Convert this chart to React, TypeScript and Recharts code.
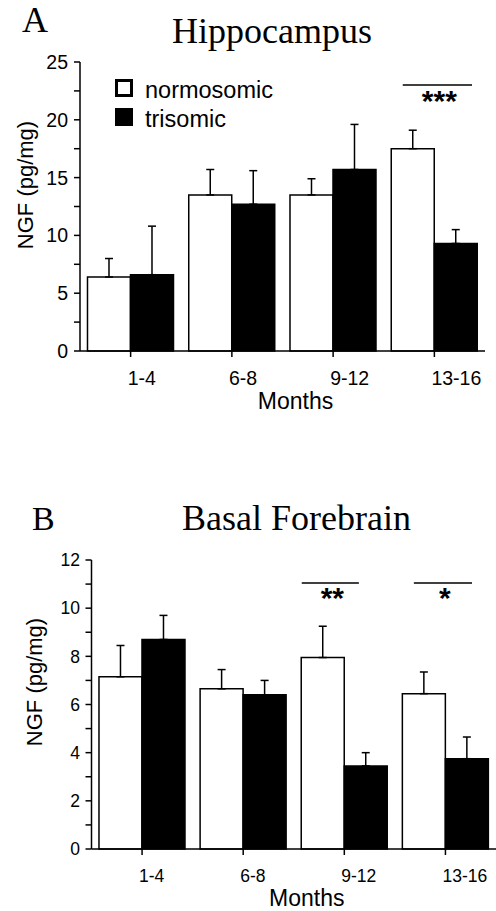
import React from 'react';
import { BarChart, Bar, XAxis, YAxis, ErrorBar, ReferenceArea, Legend, Label } from 'recharts';

const SANS = 'Arial, "Liberation Sans", Helvetica, sans-serif';
const SERIF = '"Times New Roman", "Liberation Serif", Times, serif';

const months = ['1-4', '6-8', '9-12', '13-16'];
const seriesNames = ['normosomic', 'trisomic'];

// panel A - hippocampus
const hippoNormo = [6.4, 13.5, 13.5, 17.5];
const hippoNormoErr = [1.6, 2.2, 1.4, 1.6];
const hippoTri = [6.6, 12.7, 15.7, 9.3];
const hippoTriErr = [4.2, 2.9, 3.9, 1.2];
const hippoTicks = [0, 2.5, 5, 7.5, 10, 12.5, 15, 17.5, 20, 22.5, 25];
const hippoSig = [{ month: '13-16', y: 23, mark: '***' }];

// panel B - basal forebrain
const basalNormo = [7.15, 6.65, 7.95, 6.45];
const basalNormoErr = [1.3, 0.8, 1.3, 0.9];
const basalTri = [8.7, 6.4, 3.45, 3.75];
const basalTriErr = [1.0, 0.6, 0.55, 0.9];
const basalTicks = [0, 1, 2, 3, 4, 5, 6, 7, 8, 9, 10, 11, 12];
const basalSig = [
  { month: '9-12', y: 11.05, mark: '**' },
  { month: '13-16', y: 11.05, mark: '*' },
];

const buildRows = (n: number[], nErr: number[], t: number[], tErr: number[]) =>
  months.map((m, i) => ({
    month: m,
    normo: n[i],
    normoErr: [0, nErr[i]],
    tri: t[i],
    triErr: [0, tErr[i]],
  }));

const sigShape = (mark: string, insetL: number, insetR: number) => (p: any) => {
  const x1 = p.x + insetL;
  const x2 = p.x + p.width - insetR;
  return (
    <g>
      <line x1={x1} x2={x2} y1={p.y} y2={p.y} stroke="#000" strokeWidth={1.5} />
      <text x={(x1 + x2) / 2 + 2} y={p.y + 25.5} textAnchor="middle" fontSize={30} fontWeight="bold" fontFamily={SANS} fill="#000">
        {mark}
      </text>
    </g>
  );
};

const MonthTick = (props: any) => {
  const { x, y, payload, fontSize } = props;
  return (
    <text x={x - 3} y={y + fontSize * 0.72} textAnchor="start" fontSize={fontSize} fontFamily={SANS} fill="#000">
      {payload.value}
    </text>
  );
};

const yLabel = (cxOff: number, shift: number) => (props: any) => {
  const vb = props.viewBox;
  const cx = vb.x + cxOff;
  const cy = vb.y + vb.height / 2 + shift;
  return (
    <text x={cx} y={cy} dy="0.36em" transform={`rotate(-90 ${cx} ${cy})`} textAnchor="middle" fontSize={22} fontFamily={SANS} fill="#000">
      NGF (pg/mg)
    </text>
  );
};

const xLabel = (dxOff: number, base: number) => (props: any) => {
  const vb = props.viewBox;
  return (
    <text x={vb.x + vb.width / 2 + dxOff} y={vb.y + base} textAnchor="middle" fontSize={23} fontFamily={SANS} fill="#000">
      Months
    </text>
  );
};

const legendContent = (props: any) => {
  const items = (props.payload || []).length ? props.payload : seriesNames.map((n) => ({ value: n }));
  return (
    <div style={{ fontFamily: SANS, fontSize: 23.5, color: '#000' }}>
      {items.map((it: any, i: number) => (
        <div key={it.value} style={{ display: 'flex', alignItems: 'flex-start', height: 29 }}>
          <span
            style={{
              display: 'inline-block',
              width: 18,
              height: 18,
              boxSizing: 'border-box',
              border: '3px solid #000',
              background: i === 0 ? '#fff' : '#000',
              marginRight: 12,
            }}
          />
          <span style={{ lineHeight: '22px', whiteSpace: 'nowrap' }}>{it.value}</span>
        </div>
      ))}
    </div>
  );
};

interface PanelProps {
  data: any[];
  ticks: number[];
  top: number;
  height: number;
  margin: { top: number; right: number; bottom: number; left: number };
  yWidth: number;
  xHeight: number;
  tickFont: number;
  yTickMargin: number;
  labelStep: number;
  sig: { month: string; y: number; mark: string }[];
  insets: number[][];
  yShift: number;
  monthsBase: number;
  legend?: boolean;
}

const Panel = (p: PanelProps) => (
  <div style={{ position: 'absolute', left: 0, top: p.top }}>
    <BarChart
      width={496}
      height={p.height}
      data={p.data}
      margin={p.margin}
      barGap={0}
      barCategoryGap="7.4%"
    >
      <XAxis
        dataKey="month"
        height={p.xHeight}
        tickSize={6}
        tickMargin={14}
        axisLine={{ stroke: '#000', strokeWidth: 1.5 }}
        tickLine={{ stroke: '#000', strokeWidth: 1.5 }}
        tick={(tp: any) => <MonthTick {...tp} fontSize={p.tickFont} />}
        interval={0}
      >
        <Label content={xLabel(13, p.monthsBase)} />
      </XAxis>
      <YAxis
        type="number"
        domain={[p.ticks[0], p.ticks[p.ticks.length - 1]]}
        ticks={p.ticks}
        interval={0}
        width={p.yWidth}
        tickSize={6}
        tickMargin={p.yTickMargin}
        axisLine={{ stroke: '#000', strokeWidth: 1.5 }}
        tickLine={{ stroke: '#000', strokeWidth: 1.5 }}
        tick={{ fontSize: p.tickFont, fill: '#000', fontFamily: SANS }}
        tickFormatter={(v: number) => (v % p.labelStep === 0 ? String(v) : '')}
      >
        <Label content={yLabel(5, p.yShift)} />
      </YAxis>
      {p.legend && (
        <Legend
          layout="vertical"
          align="center"
          verticalAlign="middle"
          content={legendContent}
          wrapperStyle={{ left: 115, top: 79, width: 'auto', height: 'auto' }}
        />
      )}
      <Bar dataKey="normo" name={seriesNames[0]} fill="#fff" stroke="#000" strokeWidth={1.5} isAnimationActive={false}>
        <ErrorBar dataKey="normoErr" width={4} stroke="#000" strokeWidth={1.5} isAnimationActive={false} />
      </Bar>
      <Bar dataKey="tri" name={seriesNames[1]} fill="#000" stroke="#000" strokeWidth={1.5} isAnimationActive={false}>
        <ErrorBar dataKey="triErr" width={4} stroke="#000" strokeWidth={1.5} isAnimationActive={false} />
      </Bar>
      {p.sig.map((s, i) => (
        <ReferenceArea
          key={s.month}
          x1={s.month}
          x2={s.month}
          y1={s.y}
          y2={s.y}
          ifOverflow="visible"
          shape={sigShape(s.mark, p.insets[i][0], p.insets[i][1])}
        />
      ))}
    </BarChart>
  </div>
);

const App = () => {
  const hippoRows = buildRows(hippoNormo, hippoNormoErr, hippoTri, hippoTriErr);
  const basalRows = buildRows(basalNormo, basalNormoErr, basalTri, basalTriErr);
  return (
    <div style={{ position: 'absolute', left: 0, top: 0, width: 496, height: 911, background: '#fff', overflow: 'hidden' }}>
      <Panel
        data={hippoRows}
        ticks={hippoTicks}
        top={0}
        height={420}
        margin={{ top: 62, right: 11, bottom: 9, left: 20 }}
        yWidth={60}
        xHeight={60}
        tickFont={19.5}
        yTickMargin={6}
        labelStep={5}
        sig={hippoSig}
        insets={[[19, 13]]}
        yShift={-21.5}
        monthsBase={58}
        legend
      />
      <Panel
        data={basalRows}
        ticks={basalTicks}
        top={470}
        height={441}
        margin={{ top: 90, right: 0, bottom: 0, left: 29 }}
        yWidth={62.5}
        xHeight={62}
        tickFont={17.5}
        yTickMargin={5.5}
        labelStep={2}
        sig={basalSig}
        insets={[[8, 36], [19, 24]]}
        yShift={-22.5}
        monthsBase={57}
      />
      <svg width={496} height={911} style={{ position: 'absolute', left: 0, top: 0, pointerEvents: 'none' }}>
        <text x={22} y={32} fontSize={36} fontFamily={SERIF} fill="#000">A</text>
        <text x={172} y={43} fontSize={36} fontFamily={SERIF} fill="#000">Hippocampus</text>
        <text x={32} y={530} fontSize={34} fontFamily={SERIF} fill="#000">B</text>
        <text x={182} y={530} fontSize={36} fontFamily={SERIF} fill="#000">Basal Forebrain</text>
      </svg>
    </div>
  );
};

export default App;
